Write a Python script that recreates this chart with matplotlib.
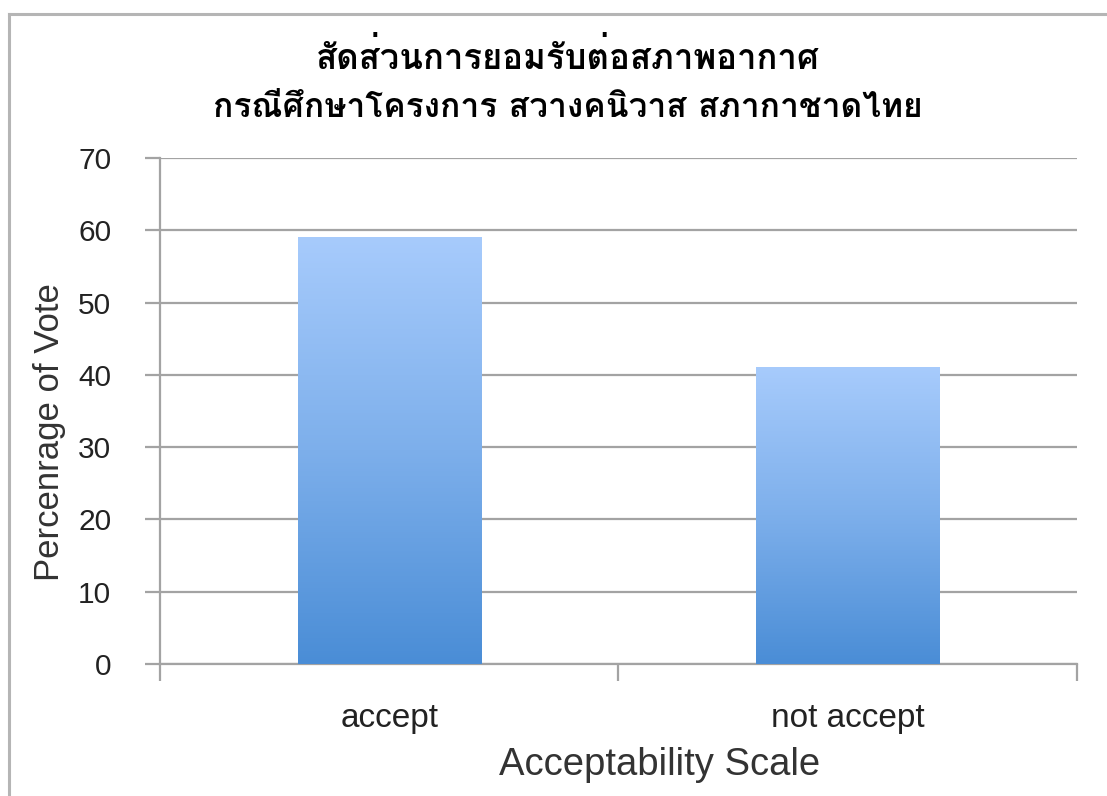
import numpy as np
import matplotlib
matplotlib.use("Agg")
import matplotlib.pyplot as plt
from matplotlib import font_manager
from matplotlib.ft2font import FT2Font
from matplotlib.colors import LinearSegmentedColormap
from matplotlib.lines import Line2D

title_lines = ["สัดส่วนการยอมรับต่อสภาพอากาศ",
               "กรณีศึกษาโครงการ สวางคนิวาส สภากาชาดไทย"]
categories = ["accept", "not accept"]
votes = [59, 41]
y_ticks = [0, 10, 20, 30, 40, 50, 60, 70]
x_label = "Acceptability Scale"
y_label = "Percenrage of Vote"


def find_thai_font():
    # first installed family that has Thai glyphs
    for f in font_manager.fontManager.ttflist:
        try:
            cmap = FT2Font(f.fname).get_charmap()
        except Exception:
            continue
        if ord("ส") in cmap and ord("ั") in cmap:
            return f.name
    return "DejaVu Sans"


thai_family = find_thai_font()
plt.rcParams["font.family"] = ["Liberation Sans", "DejaVu Sans"]

fig = plt.figure(figsize=(11.07, 7.96), dpi=100)
ax = fig.add_axes([0.1445, 0.1658, 0.9729 - 0.1445, 0.8015 - 0.1658])

grid_c = "#a3a3a3"
x = np.arange(len(categories))
bar_w = 0.4
grad = LinearSegmentedColormap.from_list("bars", ["#4a8dd6", "#7dafeb", "#a7cbfc"])
g = np.linspace(0, 1, 256).reshape(-1, 1)
for xi, v in zip(x, votes):
    ax.imshow(g, extent=[xi - bar_w / 2, xi + bar_w / 2, 0, v], origin="lower",
              aspect="auto", cmap=grad, zorder=3, interpolation="bicubic")

ax.set_xlim(-0.5, len(categories) - 0.5)
ax.set_ylim(0, 70)

ax.set_yticks(y_ticks)
ax.set_yticklabels([str(t) for t in y_ticks], fontsize=21.5, color="#222222")
ax.yaxis.grid(True, color=grid_c, linewidth=1.6, zorder=0)
ax.tick_params(axis="y", length=11, width=1.6, color=grid_c, pad=24)

# boundary ticks between categories, labels on minor ticks
ax.set_xticks(np.arange(len(categories) + 1) - 0.5)
ax.set_xticklabels([])
ax.set_xticks(x, minor=True)
ax.set_xticklabels(categories, minor=True, fontsize=24, color="#222222")
ax.tick_params(axis="x", which="major", length=12, width=1.6, color=grid_c)
ax.tick_params(axis="x", which="minor", length=0, pad=28)

for s in ["top", "right"]:
    ax.spines[s].set_visible(False)
for s in ["left", "bottom"]:
    ax.spines[s].set_color(grid_c)
    ax.spines[s].set_linewidth(1.6)
ax.set_axisbelow(True)

ax.set_xlabel(x_label, fontsize=27.5, color="#333333")
ax.xaxis.set_label_coords(0.545, -0.163)
ax.set_ylabel(y_label, fontsize=25, color="#333333")
ax.yaxis.set_label_coords(-0.1025, 0.458)

fig.text(0.513, 0.929, title_lines[0], ha="center", va="center", fontsize=25,
         fontweight="bold", family=[thai_family, "DejaVu Sans"])
fig.text(0.513, 0.864, title_lines[1], ha="center", va="center", fontsize=24.2,
         fontweight="bold", family=[thai_family, "DejaVu Sans"])

# outer frame on the left and top
fx = 8.5 / 1107
fy = 1 - 13.5 / 796
fig.add_artist(Line2D([fx, fx], [0, fy], color="#b5b5b5", linewidth=2.2))
fig.add_artist(Line2D([fx, 1], [fy, fy], color="#b5b5b5", linewidth=2.2))

fig.savefig("out.png", dpi=100)
